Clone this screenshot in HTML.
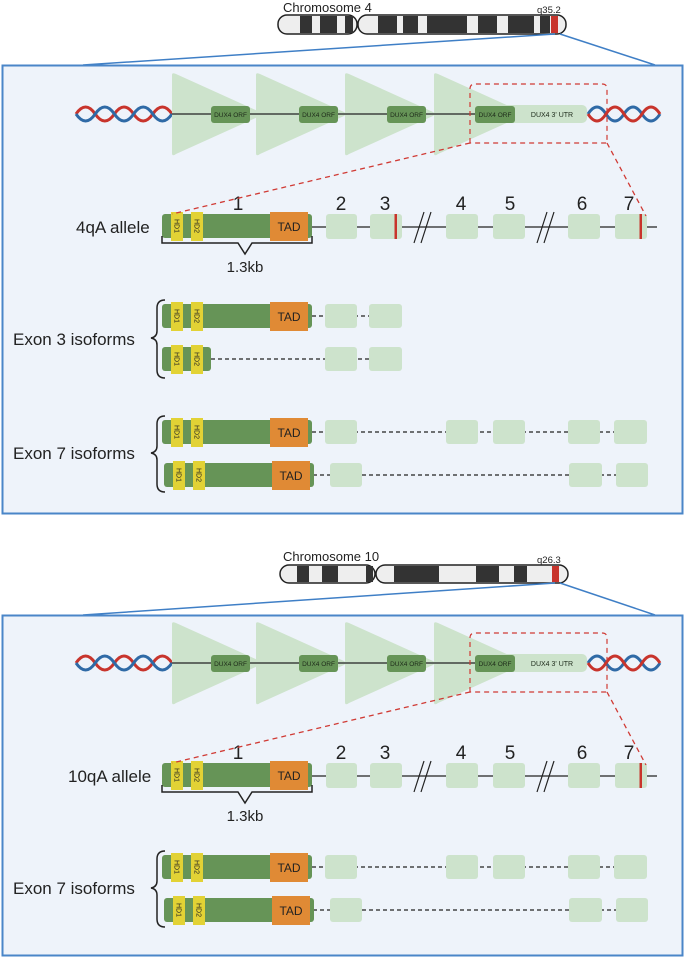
<!DOCTYPE html>
<html><head><meta charset="utf-8"><style>
html,body{margin:0;padding:0;background:#fff;}
svg{display:block;font-family:"Liberation Sans",sans-serif;}
</style></head><body>
<svg width="685" height="959" viewBox="0 0 685 959" xmlns="http://www.w3.org/2000/svg">
<defs>
<g id="dnaL">
<path d="M76 114 Q85.6 100 95.2 114 T114.4 114 T133.6 114 T152.8 114 T172 114" fill="none" stroke="#c8342c" stroke-width="3"/>
<path d="M76 114 Q85.6 128 95.2 114 T114.4 114 T133.6 114 T152.8 114 T172 114" fill="none" stroke="#2f6aa6" stroke-width="3"/>
</g>
<g id="dnaR">
<path d="M588 114 Q597 100 606 114 T624 114 T642 114 T660 114" fill="none" stroke="#2f6aa6" stroke-width="3"/>
<path d="M588 114 Q597 128 606 114 T624 114 T642 114 T660 114" fill="none" stroke="#c8342c" stroke-width="3"/>
</g>
<g id="repeat">
<use href="#dnaL"/>
<line x1="172" y1="114" x2="520" y2="114" stroke="#222" stroke-width="1.3"/>
<path d="M172 75 Q172 72 176 74 L260 112 Q263 114 260 116 L176 154 Q172 157 172 153 Z" fill="#cde3cc"/>
<path d="M256 75 Q256 72 260 74 L344 112 Q347 114 344 116 L260 154 Q256 157 256 153 Z" fill="#cde3cc"/>
<path d="M345 75 Q345 72 349 74 L433 112 Q436 114 433 116 L349 154 Q345 157 345 153 Z" fill="#cde3cc"/>
<path d="M434 75 Q434 72 438 74 L522 112 Q525 114 522 116 L438 154 Q434 157 434 153 Z" fill="#cde3cc"/>
<line x1="172" y1="114" x2="480" y2="114" stroke="#222" stroke-width="1.3"/>
<rect x="475" y="105" width="112" height="18" rx="5" fill="#cde3cc"/>
<rect x="211" y="106" width="39" height="17" rx="3" fill="#669457"/>
<rect x="299" y="106" width="39" height="17" rx="3" fill="#669457"/>
<rect x="387" y="106" width="39" height="17" rx="3" fill="#669457"/>
<rect x="475" y="106" width="40" height="17" rx="3" fill="#669457"/>
<g font-size="6.5" fill="#1d2a1a" text-anchor="middle">
<text x="230.5" y="117">DUX4 ORF</text><text x="318.5" y="117">DUX4 ORF</text><text x="406.5" y="117">DUX4 ORF</text><text x="495" y="117">DUX4 ORF</text>
<text x="552" y="117" font-size="7">DUX4 3' UTR</text>
</g>
<use href="#dnaR"/>
<path d="M470 143 L470 89 Q470 84 475 84 L602 84 Q607 84 607 89 L607 143 Z" fill="none" stroke="#d03a34" stroke-width="1.2" stroke-dasharray="5,4"/>
</g>
<g id="ex1">
<rect x="162" y="0" width="150" height="24" rx="3" fill="#669457"/>
<rect x="171" y="-2" width="12" height="29" fill="#e2d235"/>
<rect x="191" y="-2" width="12" height="29" fill="#e2d235"/>
<rect x="270" y="-2" width="38" height="29" fill="#e08a35"/>
<text transform="translate(174.5,12) rotate(90)" font-size="7" text-anchor="middle" fill="#222">HD1</text>
<text transform="translate(194.5,12) rotate(90)" font-size="7" text-anchor="middle" fill="#222">HD2</text>
<text x="289" y="17" font-size="12" text-anchor="middle" fill="#222">TAD</text>
</g>
<g id="hdonly">
<rect x="162" y="0" width="49" height="24" rx="3" fill="#669457"/>
<rect x="171" y="-2" width="12" height="29" fill="#e2d235"/>
<rect x="191" y="-2" width="12" height="29" fill="#e2d235"/>
<text transform="translate(174.5,12) rotate(90)" font-size="7" text-anchor="middle" fill="#222">HD1</text>
<text transform="translate(194.5,12) rotate(90)" font-size="7" text-anchor="middle" fill="#222">HD2</text>
</g>
<g id="ex7iso">
<line x1="312" y1="432" x2="614" y2="432" stroke="#222" stroke-width="1.2" stroke-dasharray="4,3"/>
<use href="#ex1" transform="translate(0,420)"/>
<rect x="325" y="420" width="32" height="24" rx="3" fill="#cde3cc"/>
<rect x="446" y="420" width="32" height="24" rx="3" fill="#cde3cc"/>
<rect x="493" y="420" width="32" height="24" rx="3" fill="#cde3cc"/>
<rect x="568" y="420" width="32" height="24" rx="3" fill="#cde3cc"/>
<rect x="614" y="420" width="33" height="24" rx="3" fill="#cde3cc"/>
<line x1="313" y1="475" x2="616" y2="475" stroke="#222" stroke-width="1.2" stroke-dasharray="4,3"/>
<use href="#ex1" transform="translate(2,463)"/>
<rect x="330" y="463" width="32" height="24" rx="3" fill="#cde3cc"/>
<rect x="569" y="463" width="33" height="24" rx="3" fill="#cde3cc"/>
<rect x="616" y="463" width="32" height="24" rx="3" fill="#cde3cc"/>
<path d="M165 416 Q157 416 157 424 L157 446 Q157 452 151 453 Q157 454 157 460 L157 484 Q157 492 165 492" fill="none" stroke="#222" stroke-width="1.5"/>
<text x="13" y="459" font-size="17" fill="#222">Exon 7 isoforms</text>
</g>
<g id="allele">
<line x1="312" y1="227" x2="657" y2="227" stroke="#444" stroke-width="1.5"/>
<use href="#ex1" transform="translate(0,214)"/>
<rect x="326" y="214" width="31" height="25" rx="3" fill="#cde3cc"/>
<rect x="370" y="214" width="32" height="25" rx="3" fill="#cde3cc"/>
<rect x="446" y="214" width="32" height="25" rx="3" fill="#cde3cc"/>
<rect x="493" y="214" width="32" height="25" rx="3" fill="#cde3cc"/>
<rect x="568" y="214" width="32" height="25" rx="3" fill="#cde3cc"/>
<rect x="615" y="214" width="32" height="25" rx="3" fill="#cde3cc"/>
<rect x="639.5" y="214" width="2.5" height="25" fill="#c8342c"/>
<g stroke="#222" stroke-width="1.2"><line x1="414" y1="243" x2="424" y2="212"/><line x1="421" y1="243" x2="431" y2="212"/>
<line x1="537" y1="243" x2="547" y2="212"/><line x1="544" y1="243" x2="554" y2="212"/></g>
<g font-size="19" text-anchor="middle" fill="#222">
<text x="238" y="210">1</text><text x="341" y="210">2</text><text x="385" y="210">3</text><text x="461" y="210">4</text><text x="510" y="210">5</text><text x="582" y="210">6</text><text x="629" y="210">7</text></g>
<path d="M162 236 L162 243 L238 243 L245 254 L252 243 L312 243 L312 236" fill="none" stroke="#222" stroke-width="1.5"/>
<text x="245" y="272" font-size="15" text-anchor="middle" fill="#222">1.3kb</text>
<line x1="470" y1="143" x2="172" y2="214" stroke="#d03a34" stroke-width="1.3" stroke-dasharray="5,4"/>
<line x1="607" y1="143" x2="646" y2="216" stroke="#d03a34" stroke-width="1.3" stroke-dasharray="5,4"/>
</g>
</defs>

<text x="283" y="12" font-size="13" fill="#222">Chromosome 4</text>
<text x="537" y="13" font-size="9.5" fill="#222">q35.2</text>
<g>
<rect x="278" y="15" width="79" height="19" rx="9" fill="#eee" stroke="#222" stroke-width="1.5"/>
<rect x="300" y="16" width="12" height="17" fill="#333"/><rect x="320" y="16" width="17" height="17" fill="#333"/><rect x="345" y="16" width="8" height="17" fill="#333"/>
<rect x="358" y="15" width="208" height="19" rx="9" fill="#eee" stroke="#222" stroke-width="1.5"/>
<rect x="378" y="16" width="19" height="17" fill="#333"/><rect x="403" y="16" width="15" height="17" fill="#333"/><rect x="427" y="16" width="40" height="17" fill="#333"/><rect x="478" y="16" width="19" height="17" fill="#333"/><rect x="508" y="16" width="26" height="17" fill="#333"/><rect x="540" y="16" width="10" height="17" fill="#333"/><rect x="551" y="16" width="7" height="17" fill="#c8342c"/>
</g>
<line x1="555" y1="34" x2="83" y2="65" stroke="#3f7fc6" stroke-width="1.5"/>
<line x1="560" y1="34" x2="655" y2="65" stroke="#3f7fc6" stroke-width="1.5"/>
<rect x="2.5" y="65.5" width="680" height="448" fill="#eef3fa" stroke="#4a86c8" stroke-width="2"/>

<use href="#repeat"/>
<use href="#allele"/>
<rect x="394.5" y="214" width="2.5" height="25" fill="#c8342c"/>
<text x="76" y="233" font-size="17" fill="#222">4qA allele</text>

<line x1="312" y1="316" x2="370" y2="316" stroke="#222" stroke-width="1.2" stroke-dasharray="4,3"/>
<use href="#ex1" transform="translate(0,304)"/>
<rect x="325" y="304" width="32" height="24" rx="3" fill="#cde3cc"/>
<rect x="369" y="304" width="33" height="24" rx="3" fill="#cde3cc"/>
<line x1="211" y1="359" x2="370" y2="359" stroke="#222" stroke-width="1.2" stroke-dasharray="4,3"/>
<use href="#hdonly" transform="translate(0,347)"/>
<rect x="325" y="347" width="32" height="24" rx="3" fill="#cde3cc"/>
<rect x="369" y="347" width="33" height="24" rx="3" fill="#cde3cc"/>
<path d="M165 300 Q157 300 157 308 L157 331 Q157 337 151 338 Q157 339 157 345 L157 370 Q157 378 165 378" fill="none" stroke="#222" stroke-width="1.5"/>
<text x="13" y="345" font-size="17" fill="#222">Exon 3 isoforms</text>

<use href="#ex7iso"/>

<text x="283" y="561" font-size="13" fill="#222">Chromosome 10</text>
<text x="537" y="563" font-size="9.5" fill="#222">q26.3</text>
<rect x="280" y="565" width="95" height="18" rx="9" fill="#eee" stroke="#222" stroke-width="1.5"/>
<rect x="297" y="566" width="12" height="16" fill="#333"/><rect x="322" y="566" width="16" height="16" fill="#333"/><rect x="366" y="566" width="7" height="16" fill="#333"/>
<rect x="376" y="565" width="192" height="18" rx="9" fill="#eee" stroke="#222" stroke-width="1.5"/>
<rect x="394" y="566" width="45" height="16" fill="#333"/><rect x="476" y="566" width="23" height="16" fill="#333"/><rect x="514" y="566" width="13" height="16" fill="#333"/><rect x="552" y="566" width="7" height="16" fill="#c8342c"/>
<line x1="555" y1="583" x2="83" y2="615" stroke="#3f7fc6" stroke-width="1.5"/>
<line x1="560" y1="583" x2="655" y2="615" stroke="#3f7fc6" stroke-width="1.5"/>
<rect x="2.5" y="615.5" width="680" height="340" fill="#eef3fa" stroke="#4a86c8" stroke-width="2"/>

<g transform="translate(0,549)">
<use href="#repeat"/>
<use href="#allele"/>
<text x="68" y="233" font-size="17" fill="#222">10qA allele</text>
</g>
<g transform="translate(0,435)"><use href="#ex7iso"/></g>
</svg>
</body></html>
